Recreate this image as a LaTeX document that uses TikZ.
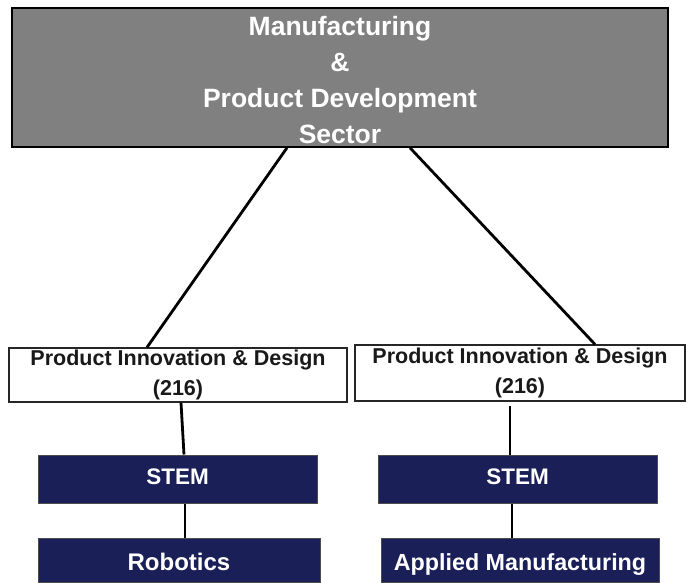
\documentclass[tikz,border=0pt]{standalone}
\usepackage{fontspec}
\setmainfont{Liberation Sans}
\definecolor{topgray}{RGB}{128,128,128}
\definecolor{navy}{RGB}{27,31,88}
\begin{document}
\begin{tikzpicture}[x=1pt,y=-1pt,
  topbox/.style={draw=black,line width=1.6pt,fill=topgray,minimum width=656pt,minimum height=139pt,inner sep=0pt},
  toptext/.style={text=white,font=\fontsize{26.5}{35.7}\selectfont\bfseries,align=center,inner sep=0pt},
  midbox/.style={draw=black!85,line width=1.3pt,fill=white,inner sep=0pt,align=center,
    font=\fontsize{21.5}{30}\selectfont\bfseries,text=black!90},
  navybox/.style={draw=black!70,line width=1pt,fill=navy,inner sep=0pt,text=white},
  stemfont/.style={font=\fontsize{22.5}{26}\selectfont\bfseries,text height=16pt,text depth=6pt},
  botfont/.style={font=\fontsize{24}{26}\selectfont\bfseries,text height=21pt,text depth=1pt},
  link/.style={draw=black,line width=2.8pt}]
\useasboundingbox (0,0) rectangle (691,583);
\node[topbox] (top) at (340,77.5) {};
\node[toptext] (toptxt) at (340,80) {Manufacturing\\\&\\Product Development\\Sector};
\node[midbox,minimum width=338pt,minimum height=54pt] (lmid) at (178,375) {Product Innovation \& Design\\(216)};
\node[midbox,minimum width=330pt,minimum height=56pt] (rmid) at (520,373) {Product Innovation \& Design\\(216)};
\node[navybox,stemfont,minimum width=279pt,minimum height=48pt] (lstem) at (177.5,479) {STEM};
\node[navybox,stemfont,minimum width=279pt,minimum height=48pt] (rstem) at (517.5,479) {STEM};
\node[navybox,botfont,minimum width=282pt,minimum height=44pt] (lbot) at (179,560) {Robotics};
\node[navybox,botfont,font=\fontsize{23.3}{26}\selectfont\bfseries,minimum width=278pt,minimum height=44pt] (rbot) at (520,560) {Applied Manufacturing};
\draw[link] ([xshift=-53pt]top.south) -- ([xshift=-31pt]lmid.north);
\draw[link] ([xshift=70pt]top.south) -- ([xshift=75pt]rmid.north);
\draw[link] ([xshift=3pt]lmid.south) -- ([xshift=6.5pt]lstem.north);
\draw[link] ([xshift=-10pt,yshift=-4pt]rmid.south) -- ([xshift=-7.5pt]rstem.north);
\draw[link] ([xshift=7.5pt]lstem.south) -- ([xshift=6pt]lbot.north);
\draw[link] ([xshift=-5.5pt]rstem.south) -- ([xshift=-8pt]rbot.north);
\end{tikzpicture}
\end{document}
